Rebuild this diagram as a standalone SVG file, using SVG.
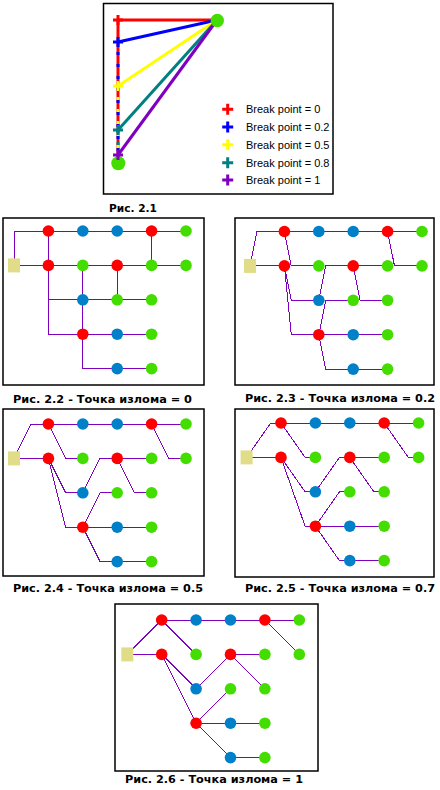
<svg xmlns="http://www.w3.org/2000/svg" xmlns:xlink="http://www.w3.org/1999/xlink" width="440" height="790" viewBox="0 0 440 790">
<style>
.frame{fill:#fff;stroke:#000;stroke-width:1.5}
.e{fill:none;stroke:#8000c0;stroke-width:1}
.edges{shape-rendering:crispEdges}
.r{fill:#ff0000}.b{fill:#0080c8}.g{fill:#44dd00}.sq{fill:#e0dc88}
.cap{font-family:"DejaVu Sans",Verdana,sans-serif;font-weight:bold;font-size:11px;fill:#000}
.leg{font-family:"Liberation Sans",Arial,sans-serif;font-size:11px;fill:#000}
.bl{fill:none;stroke-width:3}
.cr{fill:none;stroke-width:3}
</style>
<defs>
<g id="hedges">
<path class="e" d="M0 34.4H34.4"/>
<path class="e" d="M34.4 0H68.8"/>
<path class="e" d="M68.8 0H103.2"/>
<path class="e" d="M103.2 0H137.6"/>
<path class="e" d="M137.6 0H172"/>
<path class="e" d="M103.2 34.4H137.6"/>
<path class="e" d="M68.8 103.2H103.2"/>
<path class="e" d="M103.2 103.2H137.6"/>
<path class="e" d="M103.2 137.6H137.6"/>
</g>
<g id="nodeset">
<rect class="sq" x="-6" y="27.4" width="12" height="14"/>
<circle class="r" cx="34.4" cy="0" r="5.8"/>
<circle class="b" cx="68.8" cy="0" r="5.8"/>
<circle class="b" cx="103.2" cy="0" r="5.8"/>
<circle class="r" cx="137.6" cy="0" r="5.8"/>
<circle class="g" cx="172" cy="0" r="5.8"/>
<circle class="r" cx="34.4" cy="34.4" r="5.8"/>
<circle class="g" cx="68.8" cy="34.4" r="5.8"/>
<circle class="r" cx="103.2" cy="34.4" r="5.8"/>
<circle class="g" cx="137.6" cy="34.4" r="5.8"/>
<circle class="g" cx="172" cy="34.4" r="5.8"/>
<circle class="b" cx="68.8" cy="68.8" r="5.8"/>
<circle class="g" cx="103.2" cy="68.8" r="5.8"/>
<circle class="g" cx="137.6" cy="68.8" r="5.8"/>
<circle class="r" cx="68.8" cy="103.2" r="5.8"/>
<circle class="b" cx="103.2" cy="103.2" r="5.8"/>
<circle class="g" cx="137.6" cy="103.2" r="5.8"/>
<circle class="b" cx="103.2" cy="137.6" r="5.8"/>
<circle class="g" cx="137.6" cy="137.6" r="5.8"/>
</g>
</defs>
<rect width="440" height="790" fill="#fff"/>

<!-- Fig 2.1 -->
<g id="fig2-1">
<rect class="frame" x="103.5" y="3.5" width="229.5" height="190.5"/>
<g id="fig2-1-lines">
<line class="bl" x1="118" y1="163" x2="118" y2="20" stroke="#ff0000"/>
<line class="bl" x1="118" y1="163" x2="118" y2="42" stroke="#0000ff" stroke-dasharray="3 9"/>
<line class="bl" x1="118" y1="163" x2="118" y2="86" stroke="#ffff00" stroke-dasharray="3 9" stroke-dashoffset="-3"/>
<line class="bl" x1="118" y1="163" x2="118" y2="130" stroke="#008080" stroke-dasharray="3 9" stroke-dashoffset="-6"/>
<line class="bl" x1="118" y1="163" x2="118" y2="155" stroke="#8000c0" stroke-dasharray="3 9" stroke-dashoffset="-9"/>
<line class="bl" x1="118" y1="20" x2="217" y2="20" stroke="#ff0000"/>
<line class="bl" x1="118" y1="42" x2="217" y2="20" stroke="#0000ff"/>
<line class="bl" x1="118" y1="86" x2="217" y2="20" stroke="#ffff00"/>
<line class="bl" x1="118" y1="130" x2="217" y2="20" stroke="#008080"/>
<line class="bl" x1="118" y1="155" x2="217" y2="20" stroke="#8000c0"/>
</g>
<circle id="fig2-1-end" class="g" cx="217.3" cy="20.5" r="6.7"/>
<circle id="fig2-1-start" class="g" cx="118.3" cy="163.3" r="7"/>
<g id="fig2-1-breaks">
<path class="cr" stroke="#ff0000" d="M113 20H123M118 15V25"/>
<path class="cr" stroke="#0000ff" d="M113 42H123M118 37V47"/>
<path class="cr" stroke="#ffff00" d="M113 86H123M118 81V91"/>
<path class="cr" stroke="#008080" d="M113 130H123M118 125V135"/>
<path class="cr" stroke="#8000c0" d="M113 155H123M118 150V160"/>
</g>
<g id="fig2-1-legend">
<path class="cr" stroke="#ff0000" d="M222.2 109.3H233.2M227.7 103.8V114.8"/>
<path class="cr" stroke="#0000ff" d="M222.2 127H233.2M227.7 121.5V132.5"/>
<path class="cr" stroke="#ffff00" d="M222.2 144.7H233.2M227.7 139.2V150.2"/>
<path class="cr" stroke="#008080" d="M222.2 162.7H233.2M227.7 157.2V168.2"/>
<path class="cr" stroke="#8000c0" d="M222.2 180H233.2M227.7 174.5V185.5"/>
<text class="leg" x="246" y="113.3">Break point = 0</text>
<text class="leg" x="246" y="131">Break point = 0.2</text>
<text class="leg" x="246" y="148.7">Break point = 0.5</text>
<text class="leg" x="246" y="166.7">Break point = 0.8</text>
<text class="leg" x="246" y="184">Break point = 1</text>
</g>
<text class="cap" x="109" y="211.5" textLength="48" lengthAdjust="spacingAndGlyphs">Рис. 2.1</text>
</g>

<!-- Fig 2.2 : break point 0 -->
<g id="fig2-2">
<rect class="frame" x="3" y="218" width="201" height="167"/>
<g transform="translate(14,231)">
<g id="fig2-2-connectors" class="edges">
<use xlink:href="#hedges"/>
<path class="e" d="M0 34.4L0 0L34.4 0"/>
<path class="e" d="M34.4 0L34.4 34.4L68.8 34.4"/>
<path class="e" d="M137.6 0L137.6 34.4L172 34.4"/>
<path class="e" d="M34.4 34.4L34.4 68.8L68.8 68.8"/>
<path class="e" d="M34.4 34.4L34.4 103.2L68.8 103.2"/>
<path class="e" d="M68.8 68.8L68.8 34.4L103.2 34.4"/>
<path class="e" d="M103.2 34.4L103.2 68.8L137.6 68.8"/>
<path class="e" d="M68.8 103.2L68.8 68.8L103.2 68.8"/>
<path class="e" d="M68.8 103.2L68.8 137.6L103.2 137.6"/>
</g>
<g id="fig2-2-nodes"><use xlink:href="#nodeset"/></g>
</g>
<text class="cap" x="13" y="403" textLength="179" lengthAdjust="spacingAndGlyphs">Рис. 2.2 - Точка излома = 0</text>
</g>

<!-- Fig 2.3 : break point 0.2 -->
<g id="fig2-3">
<rect class="frame" x="235" y="218" width="199" height="167"/>
<g transform="translate(250,231.5)">
<g id="fig2-3-connectors" class="edges">
<use xlink:href="#hedges"/>
<path class="e" d="M0 34.4L6.88 0L34.4 0"/>
<path class="e" d="M34.4 0L41.28 34.4L68.8 34.4"/>
<path class="e" d="M137.6 0L144.48 34.4L172 34.4"/>
<path class="e" d="M34.4 34.4L41.28 68.8L68.8 68.8"/>
<path class="e" d="M34.4 34.4L41.28 103.2L68.8 103.2"/>
<path class="e" d="M68.8 68.8L75.68 34.4L103.2 34.4"/>
<path class="e" d="M103.2 34.4L110.08 68.8L137.6 68.8"/>
<path class="e" d="M68.8 103.2L75.68 68.8L103.2 68.8"/>
<path class="e" d="M68.8 103.2L75.68 137.6L103.2 137.6"/>
</g>
<g id="fig2-3-nodes"><use xlink:href="#nodeset"/></g>
</g>
<text class="cap" x="245" y="402" textLength="190" lengthAdjust="spacingAndGlyphs">Рис. 2.3 - Точка излома = 0.2</text>
</g>

<!-- Fig 2.4 : break point 0.5 -->
<g id="fig2-4">
<rect class="frame" x="3" y="409" width="201" height="167"/>
<g transform="translate(14,424)">
<g id="fig2-4-connectors" class="edges">
<use xlink:href="#hedges"/>
<path class="e" d="M0 34.4L17.2 0L34.4 0"/>
<path class="e" d="M34.4 0L51.6 34.4L68.8 34.4"/>
<path class="e" d="M137.6 0L154.8 34.4L172 34.4"/>
<path class="e" d="M34.4 34.4L51.6 68.8L68.8 68.8"/>
<path class="e" d="M34.4 34.4L51.6 103.2L68.8 103.2"/>
<path class="e" d="M68.8 68.8L86 34.4L103.2 34.4"/>
<path class="e" d="M103.2 34.4L120.4 68.8L137.6 68.8"/>
<path class="e" d="M68.8 103.2L86 68.8L103.2 68.8"/>
<path class="e" d="M68.8 103.2L86 137.6L103.2 137.6"/>
</g>
<g id="fig2-4-nodes"><use xlink:href="#nodeset"/></g>
</g>
<text class="cap" x="13" y="592" textLength="190" lengthAdjust="spacingAndGlyphs">Рис. 2.4 - Точка излома = 0.5</text>
</g>

<!-- Fig 2.5 : break point 0.7 -->
<g id="fig2-5">
<rect class="frame" x="235" y="409" width="199" height="168"/>
<g transform="translate(246.6,423)">
<g id="fig2-5-connectors" class="edges">
<use xlink:href="#hedges"/>
<path class="e" d="M0 34.4L24.08 0L34.4 0"/>
<path class="e" d="M34.4 0L58.48 34.4L68.8 34.4"/>
<path class="e" d="M137.6 0L161.68 34.4L172 34.4"/>
<path class="e" d="M34.4 34.4L58.48 68.8L68.8 68.8"/>
<path class="e" d="M34.4 34.4L58.48 103.2L68.8 103.2"/>
<path class="e" d="M68.8 68.8L92.88 34.4L103.2 34.4"/>
<path class="e" d="M103.2 34.4L127.28 68.8L137.6 68.8"/>
<path class="e" d="M68.8 103.2L92.88 68.8L103.2 68.8"/>
<path class="e" d="M68.8 103.2L92.88 137.6L103.2 137.6"/>
</g>
<g id="fig2-5-nodes"><use xlink:href="#nodeset"/></g>
</g>
<text class="cap" x="245" y="591.5" textLength="190" lengthAdjust="spacingAndGlyphs">Рис. 2.5 - Точка излома = 0.7</text>
</g>

<!-- Fig 2.6 : break point 1 -->
<g id="fig2-6">
<rect class="frame" x="115" y="604" width="203" height="167"/>
<g transform="translate(127.3,620)">
<g id="fig2-6-connectors" class="edges">
<use xlink:href="#hedges"/>
<path class="e" d="M0 34.4L34.4 0"/>
<path class="e" d="M34.4 0L68.8 34.4"/>
<path class="e" d="M137.6 0L172 34.4"/>
<path class="e" d="M34.4 34.4L68.8 68.8"/>
<path class="e" d="M34.4 34.4L68.8 103.2"/>
<path class="e" d="M68.8 68.8L103.2 34.4"/>
<path class="e" d="M103.2 34.4L137.6 68.8"/>
<path class="e" d="M68.8 103.2L103.2 68.8"/>
<path class="e" d="M68.8 103.2L103.2 137.6"/>
</g>
<g id="fig2-6-nodes"><use xlink:href="#nodeset"/></g>
</g>
<text class="cap" x="125" y="783" textLength="178" lengthAdjust="spacingAndGlyphs">Рис. 2.6 - Точка излома = 1</text>
</g>
</svg>
